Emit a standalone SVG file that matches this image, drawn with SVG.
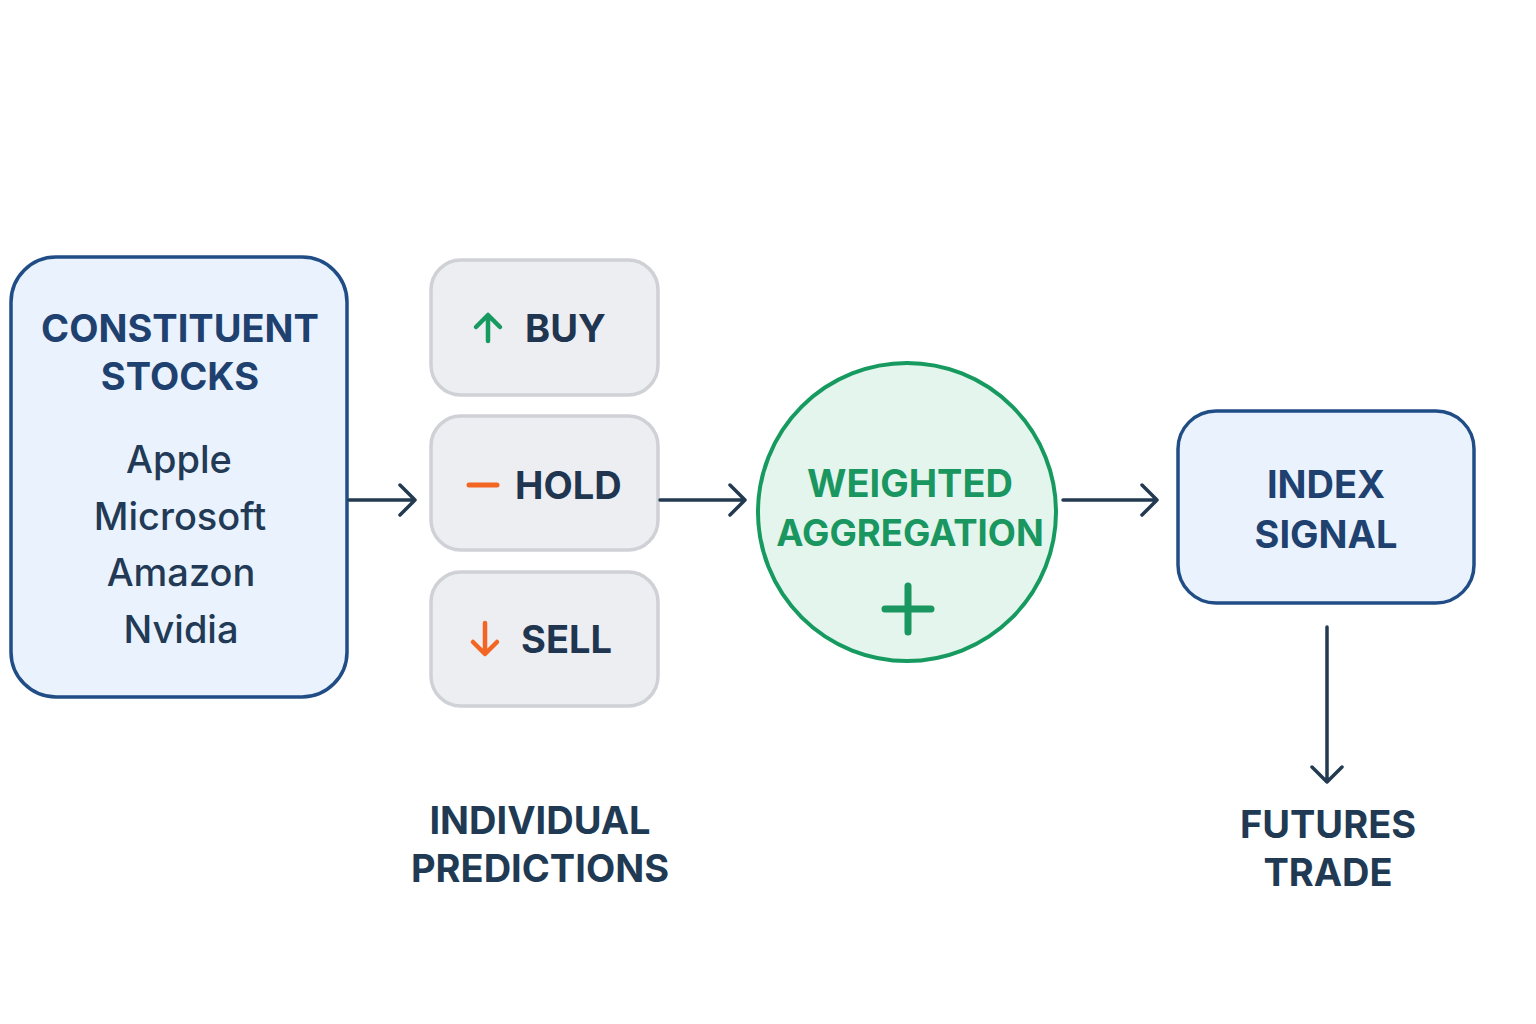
<svg xmlns="http://www.w3.org/2000/svg" width="1536" height="1024" viewBox="0 0 1536 1024">
<defs>
<style>
.blue{fill:#eaf3fd;stroke:#214d87;stroke-width:3.5}
.pred{fill:#eceef2;stroke:#cfd1d6;stroke-width:3.5}
.h{font-family:Inter,"Noto Sans",sans-serif;font-weight:700;font-size:38px;text-anchor:middle}
.dk{fill:#1f4170}
.nv{fill:#213a54}
.r{font-family:Inter,"Noto Sans",sans-serif;font-weight:500;font-size:38px;text-anchor:middle;fill:#223a55}
.p{font-family:Inter,"Noto Sans",sans-serif;font-weight:700;font-size:38px;fill:#1f3550}
.con{fill:none;stroke:#233a50;stroke-width:3.5;stroke-linecap:round;stroke-linejoin:round}
</style>
</defs>
<rect width="1536" height="1024" fill="#ffffff"/>
<g id="constituent-stocks">
<rect class="blue" x="11" y="257" width="336" height="440" rx="45"/>
<text class="h dk" x="180" y="342">CONSTITUENT</text>
<text class="h dk" x="180" y="390">STOCKS</text>
<text class="r" x="179" y="473">Apple</text>
<text class="r" x="180" y="530">Microsoft</text>
<text class="r" x="181" y="586">Amazon</text>
<text class="r" x="181" y="643">Nvidia</text>
</g>
<g id="buy">
<rect class="pred" x="431" y="260" width="227" height="135" rx="30"/>
<path d="M488 341V316M476 327L488 315L500 327" fill="none" stroke="#169a60" stroke-width="4.5" stroke-linecap="round" stroke-linejoin="round"/>
<text class="p" x="525" y="342">BUY</text>
</g>
<g id="hold">
<rect class="pred" x="431" y="416" width="227" height="134" rx="30"/>
<path d="M469 485H497" fill="none" stroke="#f26522" stroke-width="5" stroke-linecap="round"/>
<text class="p" x="515" y="499">HOLD</text>
</g>
<g id="sell">
<rect class="pred" x="431" y="572" width="227" height="134" rx="30"/>
<path d="M485 623V653M473 642L485 654L497 642" fill="none" stroke="#f26522" stroke-width="4.5" stroke-linecap="round" stroke-linejoin="round"/>
<text class="p" x="521" y="653">SELL</text>
</g>
<g id="weighted-aggregation">
<circle cx="907" cy="512" r="149" fill="#e3f5ec" stroke="#169a60" stroke-width="4"/>
<text class="h" x="910" y="497" fill="#1a9660">WEIGHTED</text>
<text class="h" x="910" y="546" fill="#1a9660" style="font-size:36.5px">AGGREGATION</text>
<path d="M908 586V632M885 609H931" fill="none" stroke="#1a9660" stroke-width="7" stroke-linecap="round"/>
</g>
<g id="index-signal">
<rect class="blue" x="1178" y="411" width="296" height="192" rx="38"/>
<text class="h dk" x="1326" y="498">INDEX</text>
<text class="h dk" x="1326" y="548">SIGNAL</text>
</g>
<g id="individual-predictions">
<text class="h nv" x="540" y="834">INDIVIDUAL</text>
<text class="h nv" x="540" y="882">PREDICTIONS</text>
</g>
<g id="futures-trade">
<text class="h nv" x="1328" y="838">FUTURES</text>
<text class="h nv" x="1328" y="886">TRADE</text>
</g>
<g id="connectors">
<path class="con" d="M349 500H415M400 485L415 500L400 515"/>
<path class="con" d="M660 500H745M730 485L745 500L730 515"/>
<path class="con" d="M1063 500H1157M1142 485L1157 500L1142 515"/>
<path class="con" d="M1327 627V782M1312 767L1327 782L1342 767"/>
</g>
</svg>
